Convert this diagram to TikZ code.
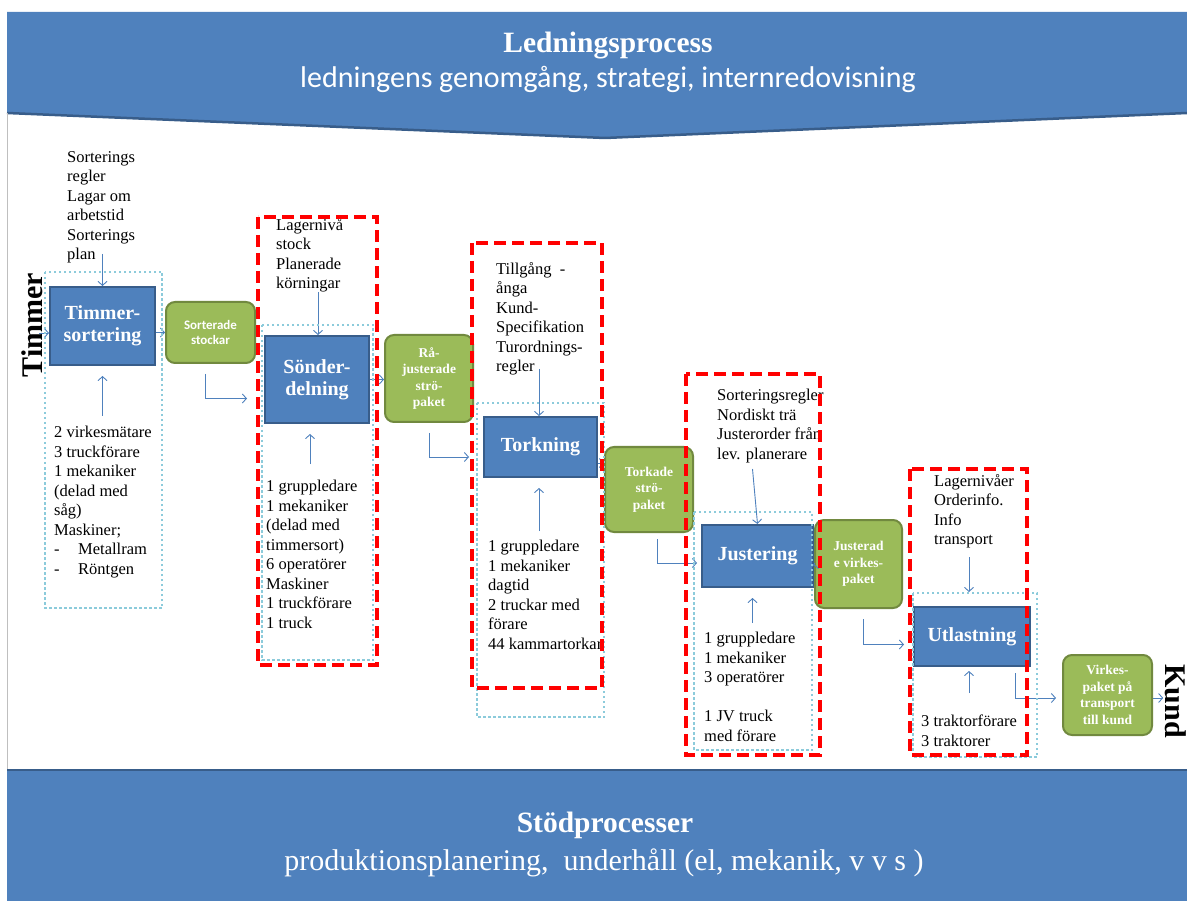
\documentclass[tikz,border=0pt]{standalone}
\usepackage{fontspec}
\setmainfont{Liberation Serif}
\newfontfamily\calibri{Carlito}
\usetikzlibrary{arrows.meta,calc}
\definecolor{procblue}{HTML}{4F81BD}
\definecolor{procedge}{HTML}{385D8A}
\definecolor{pkggreen}{HTML}{9BBB59}
\definecolor{pkgedge}{HTML}{71893F}
\definecolor{dotblue}{HTML}{8CCBDB}
\definecolor{dashred}{HTML}{FF0000}
\tikzset{
  procbox/.style={draw=procedge,line width=2pt,fill=procblue,text=white,inner sep=0pt,
    align=center,font=\bfseries\fontsize{20}{22}\selectfont},
  pkgbox/.style={draw=pkgedge,line width=2pt,fill=pkggreen,rounded corners=9pt,text=white,
    inner sep=0pt,align=center,font=\bfseries\fontsize{13.5}{16.5}\selectfont},
  infotext/.style={anchor=north west,align=left,inner sep=0pt,font=\fontsize{16.5}{19.5}\selectfont},
  flow/.style={-{Straight Barb[length=4pt,width=9pt]},draw=procblue,line width=0.9pt},
  areaframe/.style={draw=dotblue,line width=2.5pt,dash pattern=on 2.5pt off 2.5pt},
  respframe/.style={draw=dashred,line width=4.5pt,dash pattern=on 12pt off 6pt},
  banner/.style={fill=procblue,draw=none},
  bannertitle/.style={anchor=base,text=white,inner sep=0pt,font=\bfseries\fontsize{29.5}{34}\selectfont}
}
\begin{document}
\begin{tikzpicture}[x=1pt,y=-1pt]
    \useasboundingbox (0,0) rectangle (1187,901);
    % banners
    \path[banner] (7,12) -- (1187,12) -- (1187,113) -- (605,138) -- (7,113) -- cycle;
    \draw[procedge,line width=2.5pt] (7,113) -- (605,138) -- (1187,113);
    \path[banner] (7,770) rectangle (1187,901);
    \draw[procedge,line width=2.5pt] (7,770) -- (1187,770);
    \draw[gray!50,line width=1pt] (7,113) -- (7,769);
    \node[bannertitle] (ledtitle) at (608,53) {Ledningsprocess};
    \node[anchor=base,text=white,inner sep=0pt,font=\calibri\fontsize{30}{36}\selectfont]
      (ledsub) at (608,88) {ledningens genomgång, strategi, internredovisning};
    \node[bannertitle] (stodtitle) at (605,832) {Stödprocesser};
    \node[anchor=base,text=white,inner sep=0pt,font=\fontsize{30}{36}\selectfont]
      (stodsub) at (604,870) {produktionsplanering,~ underhåll (el, mekanik, v v s )};

    \node[rotate=90,inner sep=0pt,font=\bfseries\fontsize{30}{34}\selectfont] (timmer) at (32,325) {Timmer};
    \node[rotate=-90,inner sep=0pt,font=\bfseries\fontsize{30}{34}\selectfont] (kund) at (1176,701) {Kund};

    % process steps
    \node[procbox,minimum width=105,minimum height=78] (tsbox) at (102.5,326) {Timmer-\\sortering};
    \node[procbox,minimum width=104,minimum height=87] (sdbox) at (317,379.5) {Sönder-\\delning};
    \node[procbox,minimum width=113,minimum height=60] (tkbox) at (540.5,447) {Torkning};
    \node[procbox,minimum width=111,minimum height=62] (jubox) at (757.5,556) {Justering};
    \node[procbox,minimum width=116,minimum height=59] (utbox) at (972,636.5) {Utlastning};

    % packages
    \node[pkgbox,minimum width=89,minimum height=61,font=\calibri\bfseries\fontsize{13}{15.5}\selectfont]
      (sortstock) at (210.5,332.5) {Sorterade\\stockar};
    \node[pkgbox,minimum width=88,minimum height=87] (rajust) at (429,378.5) {Rå-\\justerade\\strö-\\paket};
    \node[pkgbox,minimum width=88,minimum height=85] (torkade) at (649,489.5) {Torkade\\strö-\\paket};
    \node[pkgbox,minimum width=87,minimum height=88] (justerade) at (858.5,564) {Justerad\\e virkes-\\paket};
    \node[pkgbox,minimum width=89,minimum height=80] (virkes) at (1107.5,695) {Virkes-\\paket på\\transport\\till kund};

    % inputs and resources
    \node[infotext] (tsin) at (67,151) {Sorterings\\regler\\Lagar om\\arbetstid\\Sorterings\\plan};
    \node[infotext] (tsres) at (54,426) {2 virkesmätare\\3 truckförare\\1 mekaniker\\(delad med\\såg)\\Maskiner;\\
      \makebox[24pt][l]{-}Metallram\\\makebox[24pt][l]{-}Röntgen};
    \node[infotext] (sdin) at (276,218) {Lagernivå\\stock\\Planerade\\körningar};
    \node[infotext] (sdres) at (266,480) {1 gruppledare\\1 mekaniker\\(delad med\\timmersort)\\6 operatörer\\
      Maskiner\\1 truckförare\\1 truck};
    \node[infotext] (tkin) at (496,262) {Tillgång~ -\\ånga\\Kund-\\Specifikation\\Turordnings-\\regler};
    \node[infotext] (tkres) at (488,540) {1 gruppledare\\1 mekaniker\\dagtid\\2 truckar med\\förare\\44 kammartorkar};
    \node[infotext] (juin) at (717,389) {Sorteringsregler\\Nordiskt trä\\Justerorder från\\lev. planerare};
    \node[infotext] (jures) at (704,632) {1 gruppledare\\1 mekaniker\\3 operatörer\\[19.5pt]1 JV truck\\med förare};
    \node[infotext] (utin) at (934,474) {Lagernivåer\\Orderinfo.\\Info\\transport};
    \node[infotext] (utres) at (921,715) {3 traktorförare\\3 traktorer};

    % flows
    \draw[flow] ($(tsbox.north)+(0,-32)$) -- (tsbox.north);
    \draw[flow] ($(tsbox.south)+(0,50)$) -- ($(tsbox.south)+(0,10)$);
    \draw[flow] ($(tsbox.west)+(-10,7)$) -- ($(tsbox.west)+(0,7)$);
    \draw[flow] (tsbox.east |- sortstock.west) -- (sortstock.west);
    \draw[flow] ($(sortstock.south)+(-5,10)$) |- ($(sdbox.west)+(-17,19)$);

    \draw[flow] ($(sdbox.north)+(1,-43)$) -- ($(sdbox.north)+(1,0)$);
    \draw[flow] ($(sdbox.south)+(-7,40)$) -- ($(sdbox.south)+(-7,10)$);
    \draw[flow] (sdbox.east) -- (sdbox.east -| rajust.west);
    \draw[flow] ($(rajust.south)+(0,10)$) |- ($(tkbox.west)+(-14,10)$);

    \draw[flow] ($(tkbox.north)+(-1.5,-47)$) -- ($(tkbox.north)+(-1.5,0)$);
    \draw[flow] ($(tkbox.south)+(-1.5,53)$) -- ($(tkbox.south)+(-1.5,10)$);
    \path ($(tkbox.east)+(0,16)$) coordinate (tkout);
    \draw[flow] (tkout) -- (tkout -| torkade.west);
    \draw[flow] ($(torkade.south)+(8,6)$) |- ($(jubox.west)+(-4,7)$);

    \draw[flow] ($(jubox.north)+(-5,-55)$) -- (jubox.north);
    \draw[flow] ($(jubox.south)+(-5,35)$) -- ($(jubox.south)+(-5,10)$);
    \draw[flow] (jubox.east |- justerade.west) -- (justerade.west);
    \draw[flow] ($(justerade.south)+(4.5,10)$) |- ($(utbox.west)+(-9,8)$);

    \draw[flow] ($(utbox.north)+(-3,-49)$) -- ($(utbox.north)+(-3,-14)$);
    \draw[flow] ($(utbox.south)+(-3,26)$) -- ($(utbox.south)+(-3,4)$);
    \draw[flow] ($(utbox.south)+(43,6)$) |- ($(virkes.west)+(-6,3)$);
    \path ($(virkes.east)+(0,3)$) coordinate (vkout);
    \draw[flow,shorten >=2pt] (vkout) -- (vkout -| kund.south);

    % frames
    \draw[areaframe] (45,272) rectangle (162,608);
    \draw[areaframe] (262,325) rectangle (373,660);
    \draw[areaframe] (477,403) rectangle (604,717);
    \draw[areaframe] (694,512) rectangle (812,750);
    \draw[areaframe] (913,593) rectangle (1037,757);
    \draw[respframe] (258,217) rectangle (377,665);
    \draw[respframe] (472,243) rectangle (602,688);
    \draw[respframe] (686,374) rectangle (820,755);
    \draw[respframe] (910,469) rectangle (1027,755);
\end{tikzpicture}
\end{document}
